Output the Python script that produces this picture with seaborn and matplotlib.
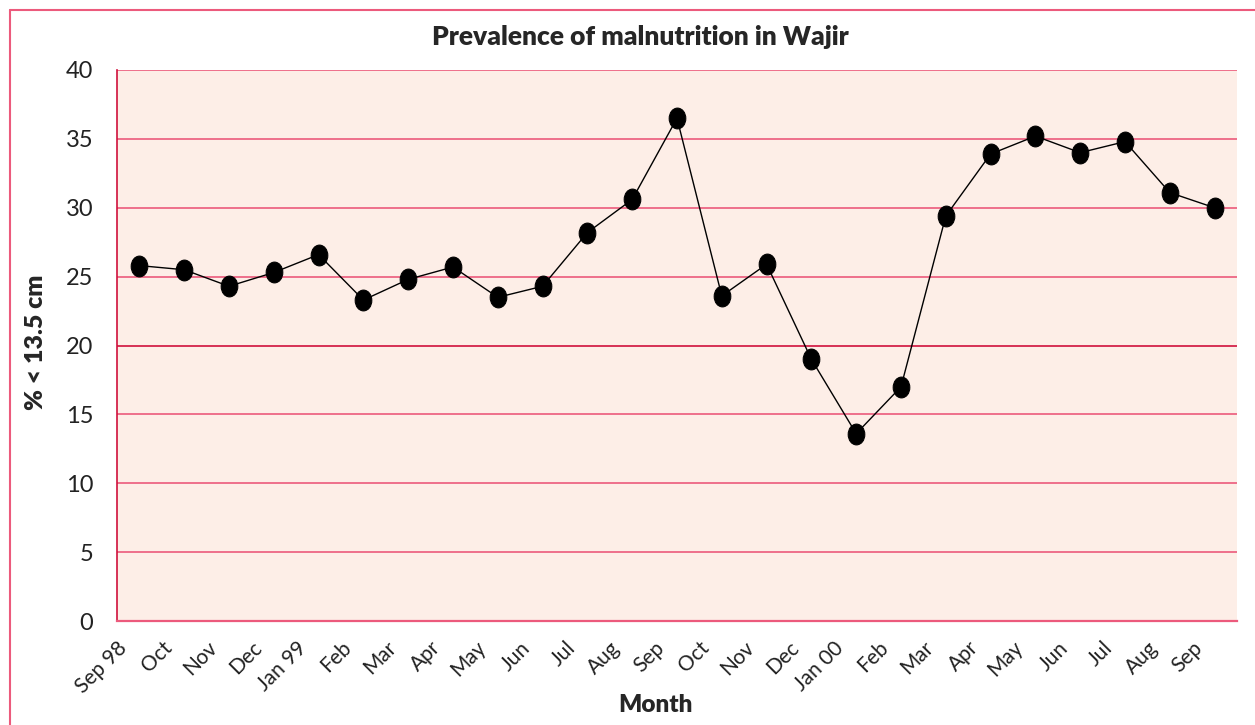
import numpy as np
import pandas as pd
import matplotlib.pyplot as plt
import matplotlib.transforms as mtransforms
from matplotlib.markers import MarkerStyle
from matplotlib.lines import Line2D
import seaborn as sns

# monthly survey values, Sep 98 .. Sep 00
months = ["Sep 98", "Oct", "Nov", "Dec", "Jan 99", "Feb", "Mar", "Apr", "May",
          "Jun", "Jul", "Aug", "Sep", "Oct", "Nov", "Dec", "Jan 00", "Feb",
          "Mar", "Apr", "May", "Jun", "Jul", "Aug", "Sep"]
prevalence = [25.8, 25.5, 24.3, 25.3, 26.6, 23.3, 24.8, 25.7, 23.5, 24.3,
              28.2, 30.6, 36.5, 23.6, 25.9, 19.0, 13.6, 17.0, 29.4, 33.9,
              35.2, 34.0, 34.8, 31.1, 30.0]
y_ticks = [0, 5, 10, 15, 20, 25, 30, 35, 40]

df = pd.DataFrame({"month": months, "pct": prevalence})
df["pos"] = np.arange(len(df)) + 0.5

sns.set_style("white")
plt.rcParams["font.family"] = ["Lato", "DejaVu Sans"]

fig = plt.figure(figsize=(12.55, 7.25), dpi=100)
ax = fig.add_axes([117 / 1255, 104 / 725, 1120 / 1255, 551 / 725])
ax.set_facecolor("#fdeee7")

pink = "#ec5a7c"
crimson = "#d0103c"

for t in y_ticks[1:]:
    ax.axhline(t, color=crimson if t == 20 else pink, lw=1.2, zorder=1)

ell = MarkerStyle("o", transform=mtransforms.Affine2D().scale(0.8, 1.0))
sns.lineplot(data=df, x="pos", y="pct", ax=ax, color="black", lw=1,
             marker=ell, markersize=15, markeredgecolor="black",
             markerfacecolor="black", zorder=3)

ax.set_xlim(0, len(months))
ax.set_ylim(0, 40)
ax.set_yticks(y_ticks)
ax.set_yticklabels([str(t) for t in y_ticks], fontsize=17, color="#222222")
ax.set_xticks(np.arange(len(months)))
ax.set_xticklabels(months, fontsize=15, rotation=45, ha="right",
                   va="top", rotation_mode="anchor", color="#222222")
offset = mtransforms.ScaledTranslation(12 / 100, -6 / 100, fig.dpi_scale_trans)
for lab in ax.get_xticklabels():
    lab.set_transform(lab.get_transform() + offset)

ax.tick_params(axis="x", length=8, width=1.2, color=crimson, pad=4)
ax.tick_params(axis="y", length=12, width=1.2, color=pink, pad=5)

for s in ["top", "right"]:
    ax.spines[s].set_visible(False)
ax.spines["left"].set_color(crimson)
ax.spines["left"].set_linewidth(1.2)
ax.spines["bottom"].set_color(pink)
ax.spines["bottom"].set_linewidth(1.6)

ax.set_xlabel("")
ax.set_ylabel("")
fig.text(655 / 1255, 1 - 705 / 725, "Month", fontsize=17.5,
         fontweight="heavy", ha="center", va="center")
fig.text(36 / 1255, 1 - 342 / 725, "% < 13.5 cm", fontsize=18,
         fontweight="heavy", ha="center", va="center", rotation=90)
fig.text(640 / 1255, 1 - 37 / 725, "Prevalence of malnutrition in Wajir",
         fontsize=19, fontweight="heavy", ha="center", va="center")

# frame around the chart (only the top and left edges are in view)
fig.add_artist(Line2D([10 / 1255, 10 / 1255], [0, 1 - 10 / 725],
                      transform=fig.transFigure, color=pink, lw=1.5))
fig.add_artist(Line2D([10 / 1255, 1], [1 - 10 / 725, 1 - 10 / 725],
                      transform=fig.transFigure, color=pink, lw=1.5))

fig.savefig("out.png", dpi=100)
